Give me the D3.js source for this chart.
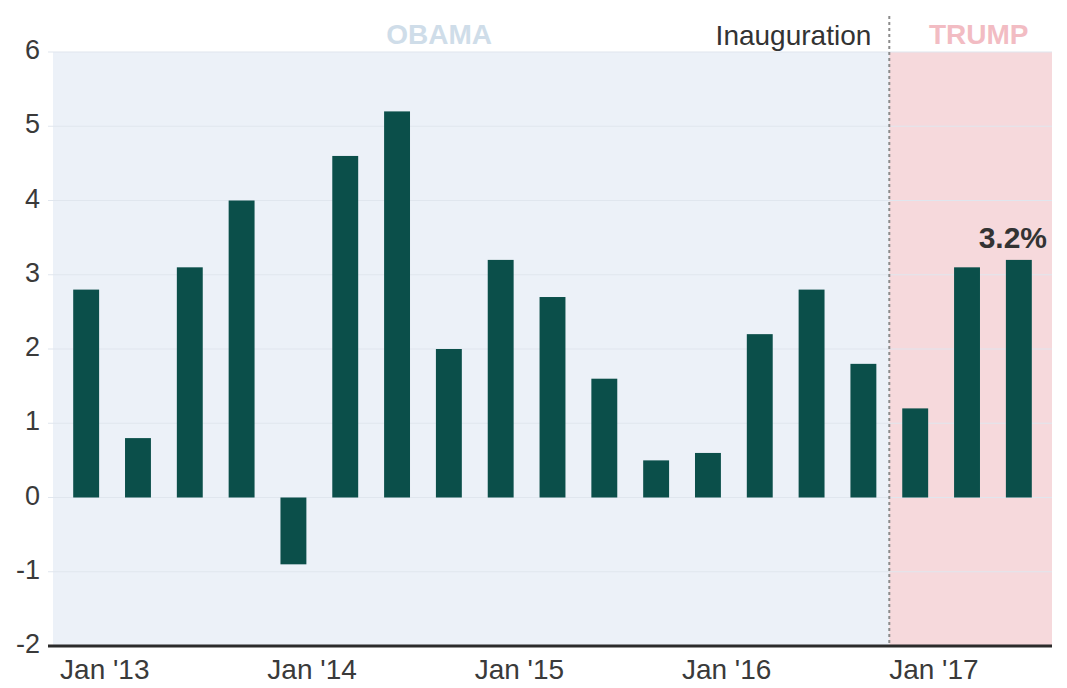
<!DOCTYPE html>
<html>
<head>
<meta charset="utf-8">
<script src="https://cdn.jsdelivr.net/npm/d3@7"></script>
<style>
  html, body { margin: 0; padding: 0; background: #ffffff; }
  svg { display: block; font-family: "Liberation Sans", Arial, Helvetica, sans-serif; }
</style>
</head>
<body>
<svg id="chart" width="1067" height="688"></svg>
<script>
// Quarterly GDP growth, annualised %
const quarters = [
  "2013Q1","2013Q2","2013Q3","2013Q4",
  "2014Q1","2014Q2","2014Q3","2014Q4",
  "2015Q1","2015Q2","2015Q3","2015Q4",
  "2016Q1","2016Q2","2016Q3","2016Q4",
  "2017Q1","2017Q2","2017Q3"
];
const growth = [2.8, 0.8, 3.1, 4.0, -0.9, 4.6, 5.2, 2.0, 3.2, 2.7, 1.6, 0.5, 0.6, 2.2, 2.8, 1.8, 1.2, 3.1, 3.2];
const yTicks = [-2, -1, 0, 1, 2, 3, 4, 5, 6];
const xTickQuarters = ["2013Q1", "2014Q1", "2015Q1", "2016Q1", "2017Q1"];
const xTickLabels = ["Jan '13", "Jan '14", "Jan '15", "Jan '16", "Jan '17"];
const firstTrumpQuarter = "2017Q1";
const lastLabel = "3.2%";

const svg = d3.select("#chart");
const plotLeft = 53, plotRight = 1052, plotTop = 52, plotBottom = 646;

const x = d3.scaleBand()
  .domain(quarters)
  .range([plotLeft, plotRight])
  .paddingInner(0.5)
  .paddingOuter(0.39);

const y = d3.scaleLinear().domain([-2, 6]).range([plotBottom, plotTop]);

const split = x(firstTrumpQuarter) - x.step() * x.paddingInner() / 2;

// Presidency background panels
svg.append("rect")
  .attr("x", plotLeft).attr("y", plotTop)
  .attr("width", split - plotLeft).attr("height", plotBottom - plotTop)
  .attr("fill", "#ecf1f8");
svg.append("rect")
  .attr("x", split).attr("y", plotTop)
  .attr("width", plotRight - split).attr("height", plotBottom - plotTop)
  .attr("fill", "#f6d9dc");

// Horizontal gridlines
svg.append("g")
  .selectAll("line")
  .data(yTicks.filter(d => d !== -2))
  .join("line")
  .attr("x1", 48).attr("x2", plotRight)
  .attr("y1", d => y(d)).attr("y2", d => y(d))
  .attr("stroke", "#e0e6ee")
  .attr("stroke-width", 1.2);

// Y axis labels (plain hyphen for negatives)
const yAxis = d3.axisLeft(y).tickValues(yTicks).tickSize(0).tickPadding(0).tickFormat(d => String(d));
svg.append("g")
  .attr("transform", "translate(40,-2)")
  .call(yAxis)
  .call(g => g.select(".domain").remove())
  .selectAll("text")
  .attr("font-size", 27)
  .attr("font-family", "Liberation Sans, Arial, sans-serif")
  .attr("fill", "#3a3a3a");

// Bars
svg.append("g")
  .selectAll("rect")
  .data(growth)
  .join("rect")
  .attr("x", (d, i) => x(quarters[i]))
  .attr("width", x.bandwidth())
  .attr("y", d => y(Math.max(0, d)))
  .attr("height", d => Math.abs(y(d) - y(0)))
  .attr("fill", "#0b4f4a");

// Baseline axis
svg.append("line")
  .attr("x1", 48).attr("x2", plotRight)
  .attr("y1", plotBottom).attr("y2", plotBottom)
  .attr("stroke", "#2b2b2b")
  .attr("stroke-width", 3);

// X tick labels (January of each year)
svg.append("g")
  .selectAll("text")
  .data(xTickQuarters)
  .join("text")
  .attr("x", d => x(d) + x.bandwidth() / 2 + x.step() * 0.36)
  .attr("y", 679)
  .attr("text-anchor", "middle")
  .attr("font-size", 28)
  .attr("fill", "#3a3a3a")
  .text((d, i) => xTickLabels[i]);

// Inauguration marker
svg.append("line")
  .attr("x1", split).attr("x2", split)
  .attr("y1", 16).attr("y2", plotBottom)
  .attr("stroke", "#8c8c8c")
  .attr("stroke-width", 2)
  .attr("stroke-dasharray", "3,3");

svg.append("text")
  .attr("x", split - 18).attr("y", 45)
  .attr("text-anchor", "end")
  .attr("font-size", 28)
  .attr("fill", "#333333")
  .text("Inauguration");

// Presidency titles
svg.append("text")
  .attr("x", (plotLeft + split) / 2 - 32).attr("y", 44)
  .attr("text-anchor", "middle")
  .attr("font-size", 28)
  .attr("font-weight", "bold")
  .attr("fill", "#cfdde9")
  .text("OBAMA");

svg.append("text")
  .attr("x", (split + plotRight) / 2 + 8).attr("y", 44)
  .attr("text-anchor", "middle")
  .attr("font-size", 28)
  .attr("font-weight", "bold")
  .attr("fill", "#f2bcc3")
  .text("TRUMP");

// Latest value callout
const lastIdx = growth.length - 1;
svg.append("text")
  .attr("x", x(quarters[lastIdx]) + x.bandwidth() / 2 - 6)
  .attr("y", y(growth[lastIdx]) - 12)
  .attr("text-anchor", "middle")
  .attr("font-size", 30)
  .attr("font-weight", "bold")
  .attr("fill", "#333333")
  .text(lastLabel);
</script>
</body>
</html>
